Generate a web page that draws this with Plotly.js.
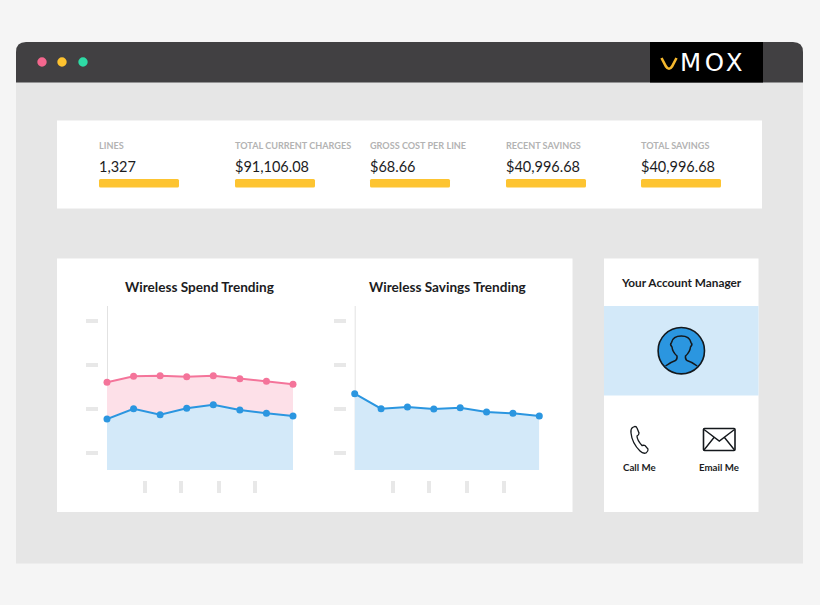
<!DOCTYPE html>
<html>
<head>
<meta charset="utf-8">
<script src="https://cdn.plot.ly/plotly-3.0.1.min.js"></script>
<style>
html,body{margin:0;padding:0;background:#f5f5f5;overflow:hidden}
#chart{width:820px;height:605px}
text[data-unformatted="MOX"]{letter-spacing:3.5px}
</style>
</head>
<body>
<div id="chart"></div>
<script>
// --- data (units: arbitrary, unlabelled in the source)
const periods = [0, 1, 2, 3, 4, 5, 6, 7];
const spendTotal = [87.7, 93.7, 94.3, 93.3, 94.3, 91.3, 88.7, 85.7];
const spendBase = [51, 61.3, 55.3, 61.7, 65.3, 60, 56.7, 54];
const savings = [76.3, 61.3, 63, 61, 62.3, 58, 56.7, 54];
const yTicks = [17, 61, 105, 149];
const spendXTicks = [1.42, 2.78, 4.21, 5.58];
const savingsXTicks = [1.44, 2.82, 4.26, 5.65];
const xTicksBlank = ['', '', '', ''];
const kpiLabels = ['LINES', 'TOTAL CURRENT CHARGES', 'GROSS COST PER LINE', 'RECENT SAVINGS', 'TOTAL SAVINGS'];
const kpiValues = ['1,327', '$91,106.08', '$68.66', '$40,996.68', '$40,996.68'];

// --- style
const BLUE = '#2b96e0', BLUE_FILL = '#d3e9f9', PINK = '#f4749a', PINK_FILL = '#fde0e8';
const TICK = '#e8e8e8', INK = '#1c1c1e', YEL = '#fdc431';
const FONT = 'Lato, sans-serif';

function rr(x0, y0, x1, y1, r) {
  return `M${x0 + r},${y0} L${x1 - r},${y0} Q${x1},${y0} ${x1},${y0 + r} L${x1},${y1 - r} Q${x1},${y1} ${x1 - r},${y1} L${x0 + r},${y1} Q${x0},${y1} ${x0},${y1 - r} L${x0},${y0 + r} Q${x0},${y0} ${x0 + r},${y0} Z`;
}
const page = {xref: 'x', yref: 'y', layer: 'below'};
function rect(x0, y0, x1, y1, c) { return {...page, type: 'rect', x0, y0, x1, y1, fillcolor: c, line: {width: 0}}; }
function path(d, fill, stroke, w) { return {...page, type: 'path', path: d, fillcolor: fill || 'rgba(0,0,0,0)', line: {color: stroke || 'rgba(0,0,0,0)', width: stroke ? (w || 1.5) : 0}}; }
function circ(cx, cy, r, fill, stroke, w) { return {...page, type: 'circle', x0: cx - r, x1: cx + r, y0: cy - r, y1: cy + r, fillcolor: fill, line: {color: stroke || 'rgba(0,0,0,0)', width: stroke ? w : 0}}; }
function label(x, y, text, size, color, weight, anchor, family) {
  return {xref: 'x', yref: 'y', x, y, text, showarrow: false, xanchor: anchor || 'left', yanchor: 'middle', font: {family: family || FONT, size, color, weight: weight || 400}};
}

const kpiX = [99, 235, 370, 506, 641];
const shapes = [
  path(rr(16, 42, 803, 120, 10), '#414042'),
  rect(16, 82.5, 803, 563.5, '#e6e6e6'),
  rect(650, 42, 763, 82.5, '#000000'),
  path('M661.5,58 L666,66.5 Q669,71 672,66.5 L676.5,58', 'rgba(0,0,0,0)', '#f5b82e', 2.6),
  circ(42, 62, 4.7, '#f4678e'), circ(62, 62, 4.7, '#fdc22f'), circ(83, 62, 4.7, '#2edba5'),
  rect(57, 120.5, 762, 208.5, '#ffffff'),
  rect(57, 258.5, 572.5, 512, '#ffffff'),
  rect(604, 258.5, 758.5, 512, '#ffffff'),
  rect(604, 306, 758.5, 395.5, BLUE_FILL),
  // axis lines of the two charts
  {xref: 'x2', yref: 'y2', type: 'line', x0: 0, x1: 0, y0: 0, y1: 164, layer: 'below', line: {color: '#e2e2e2', width: 2}},
  {xref: 'x3', yref: 'y3', type: 'line', x0: 0, x1: 0, y0: 0, y1: 164, layer: 'below', line: {color: '#e2e2e2', width: 2}},
  // avatar
  circ(681.3, 350.7, 23.2, BLUE, '#14181c', 1.6),
  path('M665.5,366 Q671,362 675.5,360.5 Q677.5,359 677,356 Q672.5,352 672,347 Q669.5,344.5 671.5,342.5 Q673,336 681.3,336 Q689.5,336 691,342.5 Q693,344.5 690.5,347 Q690,352 685.5,356 Q685,359 687,360.5 Q692,362 697.2,366', 'rgba(0,0,0,0)', '#14181c', 1.5),
  // phone
  path('M632.5,427.5 L635,426.5 Q636.5,426.5 637,428 L639,433 Q639,435 637,436 Q637,440 642,445.5 Q644,445 645,445.5 L648,449 Q648.5,451 646,453 Q643,454 640,451 Q632,443 631,433 Q630.5,429 632.5,427.5 Z', 'rgba(0,0,0,0)', '#14181c', 1.3),
  // envelope
  path(rr(703.5, 428.5, 735, 450.5, 1), 'rgba(0,0,0,0)', '#14181c', 1.6),
  path('M704,429.5 L719.3,441 L734.5,429.5 M704,450 L714,437.5 M734.5,450 L724.5,437.5', 'rgba(0,0,0,0)', '#14181c', 1.4)
];
kpiX.forEach(x => shapes.push(path(rr(x, 179, x + 80, 187.5, 1.5), YEL)));

const annotations = [
  label(678, 62, 'MOX', 24.5, '#ffffff', 400, 'left', 'DejaVu Sans, sans-serif'),
  label(199, 286.5, 'Wireless Spend Trending', 13.6, INK, 700, 'center'),
  label(447, 286.5, 'Wireless Savings Trending', 13.6, INK, 700, 'center'),
  label(681.5, 282.5, 'Your Account Manager', 11.8, INK, 700, 'center'),
  label(639.5, 466.8, 'Call Me', 9.7, INK, 700, 'center'),
  label(719, 466.8, 'Email Me', 9.7, INK, 700, 'center')
];
kpiLabels.forEach((t, i) => annotations.push(label(kpiX[i] - 2, 145, t, 9.1, '#b3b3b3', 700)));
kpiValues.forEach((t, i) => annotations.push(label(kpiX[i] - 2, 166, t, 14.5, INK, 400)));

function lineTrace(y, xa, ya, color, fillMode, fillColor) {
  return {x: periods, y, xaxis: xa, yaxis: ya, type: 'scatter', mode: 'lines+markers', cliponaxis: false,
    line: {color, width: 2}, marker: {color, size: 7}, fill: fillMode, fillcolor: fillColor, hoverinfo: 'skip'};
}
const traces = [
  lineTrace(spendBase, 'x2', 'y2', BLUE, 'tozeroy', BLUE_FILL),
  lineTrace(spendTotal, 'x2', 'y2', PINK, 'tonexty', PINK_FILL),
  lineTrace(savings, 'x3', 'y3', BLUE, 'tozeroy', BLUE_FILL)
];

const W = 820, H = 605;
function xAxis(px0, px1, ticks) {
  return {domain: [px0 / W, px1 / W], range: [0, 7], anchor: 'free', position: (H - 480) / H,
    showgrid: false, zeroline: false, showline: false, showticklabels: false,
    tickmode: 'array', tickvals: ticks, ticktext: xTicksBlank, ticks: 'outside', ticklen: 11.5, tickwidth: 4, tickcolor: TICK, fixedrange: true};
}
function yAxis(pxTick) {
  return {domain: [(H - 470) / H, (H - 306) / H], range: [0, 164], anchor: 'free', position: pxTick / W,
    showgrid: false, zeroline: false, showline: false, showticklabels: false,
    tickmode: 'array', tickvals: yTicks, ticks: 'outside', ticklen: 12, tickwidth: 3.4, tickcolor: TICK, fixedrange: true};
}
const layout = {
  width: W, height: H, margin: {l: 0, r: 0, t: 0, b: 0},
  paper_bgcolor: '#f5f5f5', plot_bgcolor: 'rgba(0,0,0,0)', showlegend: false, hovermode: false,
  xaxis: {domain: [0, 1], range: [0, W], visible: false, fixedrange: true},
  yaxis: {domain: [0, 1], range: [H, 0], visible: false, fixedrange: true},
  xaxis2: xAxis(107, 293, spendXTicks), yaxis2: yAxis(98),
  xaxis3: xAxis(354.7, 539.3, savingsXTicks), yaxis3: yAxis(346),
  shapes, annotations
};
Plotly.newPlot('chart', traces, layout, {displayModeBar: false, staticPlot: true});
</script>
</body>
</html>
